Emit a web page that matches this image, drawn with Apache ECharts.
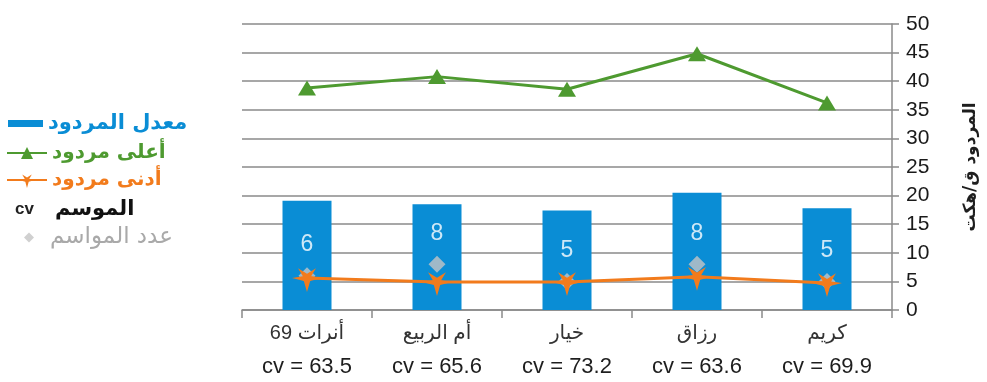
<!DOCTYPE html>
<html lang="ar">
<head>
<meta charset="utf-8">
<title>المردود</title>
<script src="https://cdn.jsdelivr.net/npm/echarts@6/dist/echarts.min.js"></script>
<style>
  html, body { margin: 0; padding: 0; background: #ffffff; }
  #chart { width: 987px; height: 382px; }
</style>
</head>
<body>
<div id="chart"></div>
<script>
// Varieties on the horizontal axis
const categories = ['أنرات 69', 'أم الربيع', 'خيار', 'رزاق', 'كريم'];
// Coefficient of variation shown under each variety
const cvValues = [63.5, 65.6, 73.2, 63.6, 69.9];
// Mean, highest and lowest yield (q/ha)
const avgYield = [19.1, 18.5, 17.4, 20.5, 17.8];
const maxYield = [38.8, 40.8, 38.6, 44.8, 36.2];
const minYield = [5.6, 4.9, 4.9, 5.8, 4.7];
// Number of seasons per variety
const seasonCount = [6, 8, 5, 8, 5];
// Yield axis ticks
const yMin = 0, yMax = 50, yStep = 5;

const names = {
  avg: 'معدل المردود',
  max: 'أعلى مردود',
  min: 'أدنى مردود',
  seasons: 'عدد المواسم'
};

const C_BLUE = '#0a8dd5';
const C_GREEN = '#4e9a30';
const C_ORANGE = '#f27b1c';
const C_GREY = '#c4c4c4';

const LATIN = '"Liberation Sans", "DejaVu Sans", sans-serif';
const ARABIC = '"DejaVu Sans", sans-serif';

// five-armed star marker; the tiny first sub-path keeps the box centred on the hub
const STAR = 'path://M20,0 L20.05,0 L20.05,0.05 Z ' +
  'M40,20 L24.24,24.24 L20,40 L15.76,24.24 L0,20 L14.46,17.7 L8,6 L20,14 L32,6 L25.54,17.7 Z';

const chart = echarts.init(document.getElementById('chart'), null, { renderer: 'canvas' });

function legendBox(name, left, top, w, h, textStyle, extra) {
  return Object.assign({
    orient: 'vertical',
    left: left,
    top: top,
    padding: 0,
    itemWidth: w,
    itemHeight: h,
    selectedMode: false,
    data: [name],
    textStyle: Object.assign({ fontWeight: 'bold', fontFamily: ARABIC }, textStyle)
  }, extra || {});
}

const option = {
  animation: false,
  backgroundColor: '#ffffff',
  grid: { left: 242, right: 94, top: 24, bottom: 72 },
  legend: [
    legendBox(names.avg, 8, 113, 35, 7, { color: C_BLUE, fontSize: 21 }, { icon: 'rect' }),
    legendBox(names.max, 6, 143, 40, 15, { color: C_GREEN, fontSize: 20 }),
    legendBox(names.min, 6, 170, 40, 20, { color: C_ORANGE, fontSize: 20 }),
    legendBox(names.seasons, 24, 226, 10, 10, {
      color: '#a9a9a9', fontSize: 23, fontWeight: 'normal', padding: [0, 0, 0, 11]
    })
  ],
  graphic: [
    {
      type: 'text', left: 15, top: 201,
      style: { text: 'cv', fill: '#222', font: 'bold 17px ' + LATIN }
    },
    {
      type: 'text', left: 55, top: 199,
      style: { text: 'الموسم', fill: '#111', font: 'bold 21px ' + ARABIC }
    }
  ],
  xAxis: {
    type: 'category',
    data: categories,
    axisLine: { lineStyle: { color: '#8a8a8a', width: 1.5 } },
    axisTick: { show: true, length: 8, lineStyle: { color: '#8a8a8a', width: 1.5 } },
    axisLabel: {
      margin: 10,
      interval: 0,
      formatter: function (v, i) {
        return '{n|' + v + '}\n{c|cv = ' + cvValues[i].toFixed(1) + '}';
      },
      rich: {
        n: { fontSize: 20, color: '#333', fontFamily: LATIN, lineHeight: 26 },
        c: { fontSize: 22, color: '#1e1e1e', fontFamily: LATIN, lineHeight: 42 }
      }
    }
  },
  yAxis: {
    type: 'value',
    position: 'right',
    min: yMin,
    max: yMax,
    interval: yStep,
    name: 'المردود ق/هكت',
    nameLocation: 'middle',
    nameGap: 70,
    nameTextStyle: { fontSize: 17, fontWeight: 'bold', color: '#1e1e1e', fontFamily: ARABIC },
    axisLine: { show: true, lineStyle: { color: '#8a8a8a', width: 1.5 } },
    axisTick: { show: true, length: 7, lineStyle: { color: '#8a8a8a', width: 1.5 } },
    axisLabel: { margin: 14, fontSize: 21, color: '#1a1a1a', fontFamily: LATIN },
    splitLine: { show: true, lineStyle: { color: '#8a8a8a', width: 1.5 } }
  },
  series: [
    {
      name: names.avg,
      type: 'bar',
      data: avgYield,
      barWidth: 49,
      itemStyle: { color: C_BLUE },
      z: 1
    },
    {
      name: names.max,
      type: 'line',
      data: maxYield,
      symbol: 'triangle',
      symbolSize: [18, 15],
      lineStyle: { color: C_GREEN, width: 3 },
      itemStyle: { color: C_GREEN },
      z: 4
    },
    {
      name: names.seasons,
      type: 'scatter',
      data: seasonCount,
      symbol: 'diamond',
      symbolSize: 17,
      itemStyle: { color: C_GREY },
      label: {
        show: true,
        position: 'top',
        distance: 11,
        color: '#ffffff',
        fontSize: 23,
        fontFamily: LATIN,
        formatter: '{c}'
      },
      z: 3
    },
    {
      name: names.min,
      type: 'line',
      data: minYield,
      symbol: STAR,
      symbolSize: [30, 28],
      lineStyle: { color: C_ORANGE, width: 3 },
      itemStyle: { color: C_ORANGE },
      z: 5
    }
  ]
};

chart.setOption(option);
</script>
</body>
</html>
